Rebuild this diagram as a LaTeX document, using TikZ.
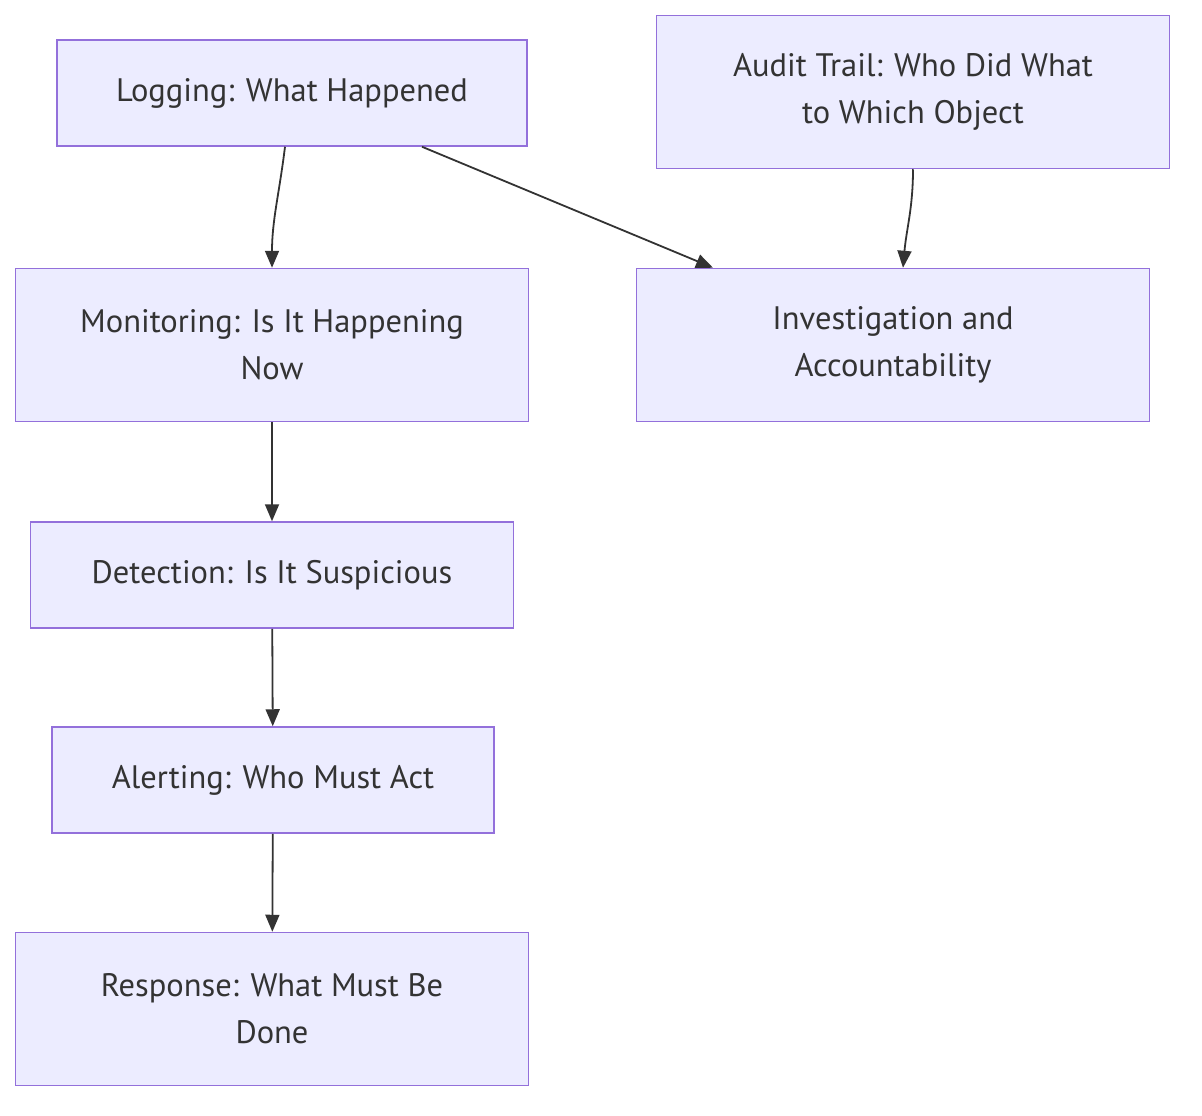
\documentclass[tikz,border=0pt]{standalone}
\usepackage{fontspec}
\setmainfont{PT Sans}
\usetikzlibrary{arrows.meta}
\definecolor{boxfill}{HTML}{ECECFF}
\definecolor{boxline}{HTML}{9370DB}
\definecolor{ink}{HTML}{333333}
\begin{document}
\begin{tikzpicture}[x=1pt, y=-1pt,
    stage/.style={draw=boxline, fill=boxfill, line width=1.5pt, text=ink,
      align=center, inner sep=0pt, font=\fontsize{32.5}{47}\selectfont},
    flow/.style={draw=ink, line width=1.8pt, -{Triangle[length=17pt,width=14pt]}}]
    \useasboundingbox (0,0) rectangle (1202,1116);
    % Left column
    \node[stage, minimum width=470pt, minimum height=106pt] (log) at (292,93) {Logging: What Happened};
    \node[stage, minimum width=513pt, minimum height=153pt] (mon) at (272,345) {Monitoring: Is It Happening\\Now};
    \node[stage, minimum width=483pt, minimum height=106pt] (det) at (272,575) {Detection: Is It Suspicious};
    \node[stage, minimum width=442pt, minimum height=106pt] (alr) at (273,780) {Alerting: Who Must Act};
    \node[stage, minimum width=513pt, minimum height=153pt] (rsp) at (272,1009) {Response: What Must Be\\Done};
    % Right column
    \node[stage, minimum width=513pt, minimum height=153pt] (aud) at (913,92) {Audit Trail: Who Did What\\to Which Object};
    \node[stage, minimum width=513pt, minimum height=153pt] (inv) at (893,345) {Investigation and\\Accountability};
    % Edges
    \draw[flow] ([xshift=-7pt]log.south) to[out=-97, in=90] (mon.north);
    \draw[flow] ([xshift=130pt]log.south) -- ([xshift=-180pt]inv.north);
    \draw[flow] (aud.south) to[out=-90, in=85] ([xshift=10pt]inv.north);
    \draw[flow] (mon) -- (det);
    \draw[flow] (det) -- (alr);
    \draw[flow] (alr) -- (rsp);
\end{tikzpicture}
\end{document}
